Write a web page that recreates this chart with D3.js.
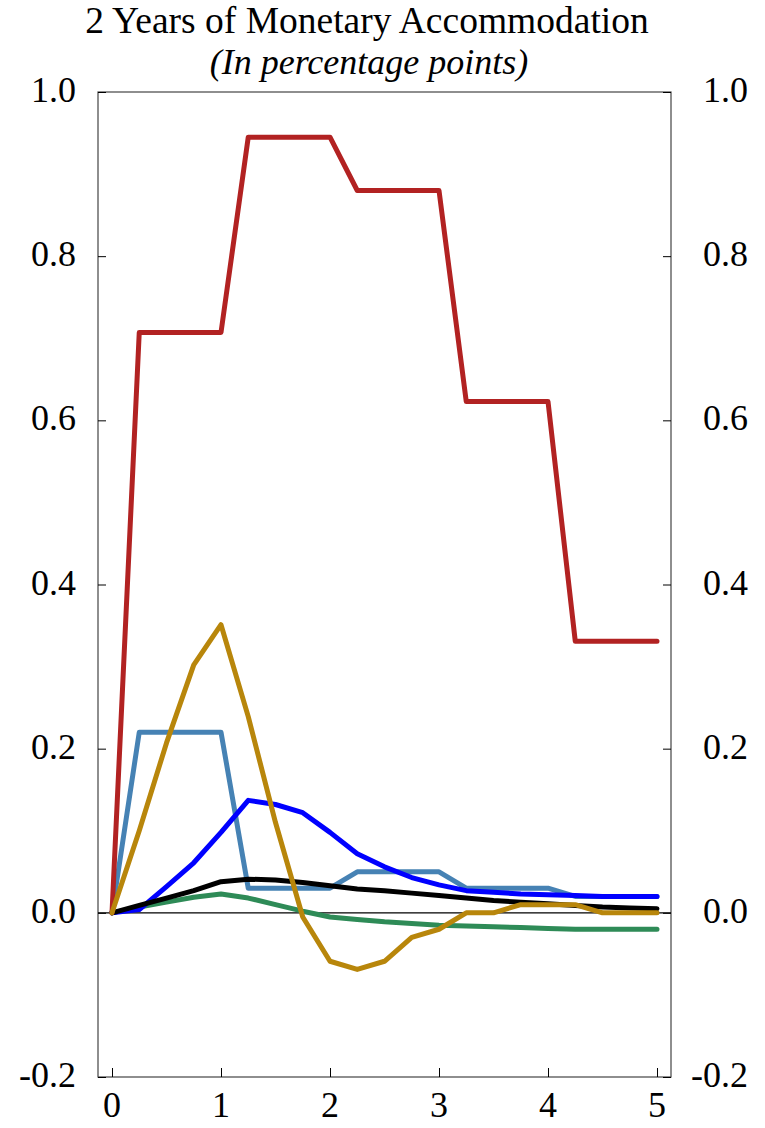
<!DOCTYPE html>
<html lang="en">
<head>
<meta charset="UTF-8">
<title>2 Years of Monetary Accommodation</title>
<script src="https://d3js.org/d3.v7.min.js"></script>
<style>
  body { margin: 0; background: #fff; }
  svg text { font-family: "Liberation Serif", "Times New Roman", serif; fill: #000; }
</style>
</head>
<body>
<svg width="765" height="1128"></svg>
<script>
// quarters 0 .. 5 years
const quarters = d3.range(0, 21).map(i => i * 0.25);

const redSeries   = [0, 0.707, 0.707, 0.707, 0.707, 0.945, 0.945, 0.945, 0.945, 0.88, 0.88, 0.88, 0.88, 0.623, 0.623, 0.623, 0.623, 0.331, 0.331, 0.331, 0.331];
const steelSeries = [0, 0.22, 0.22, 0.22, 0.22, 0.03, 0.03, 0.03, 0.03, 0.05, 0.05, 0.05, 0.05, 0.03, 0.03, 0.03, 0.03, 0.02, 0.02, 0.02, 0.02];
const blueSeries  = [0, 0.004, 0.032, 0.061, 0.098, 0.137, 0.132, 0.122, 0.098, 0.072, 0.056, 0.043, 0.034, 0.027, 0.025, 0.023, 0.022, 0.021, 0.02, 0.02, 0.02];
const blackSeries = [0, 0.009, 0.018, 0.027, 0.038, 0.041, 0.04, 0.037, 0.033, 0.029, 0.027, 0.024, 0.021, 0.018, 0.015, 0.013, 0.011, 0.009, 0.007, 0.006, 0.005];
const greenSeries = [0, 0.007, 0.013, 0.019, 0.023, 0.018, 0.01, 0.002, -0.005, -0.008, -0.011, -0.013, -0.015, -0.016, -0.017, -0.018, -0.019, -0.02, -0.02, -0.02, -0.02];
const goldSeries  = [0, 0.1, 0.207, 0.302, 0.351, 0.239, 0.11, -0.005, -0.059, -0.069, -0.059, -0.03, -0.02, 0, 0, 0.01, 0.01, 0.01, 0, 0, 0];

const yTicks = [-0.2, 0, 0.2, 0.4, 0.6, 0.8, 1.0];
const xTicks = [0, 1, 2, 3, 4, 5];

const series = [
  { name: "steel", color: "#4682B4", values: steelSeries },
  { name: "green", color: "#2E8B57", values: greenSeries },
  { name: "blue",  color: "#0000FF", values: blueSeries },
  { name: "black", color: "#000000", values: blackSeries },
  { name: "red",   color: "#B22222", values: redSeries },
  { name: "gold",  color: "#B8860B", values: goldSeries }
];

const svg = d3.select("svg");
const frame = { left: 98, right: 671, top: 92, bottom: 1077 };

const x = d3.scaleLinear().domain([0, 5]).range([112, 657]);
const y = d3.scaleLinear().domain([-0.2, 1.0]).range([frame.bottom, frame.top]);

// title
svg.append("text")
  .attr("x", 367).attr("y", 33)
  .attr("text-anchor", "middle")
  .attr("font-size", "37.5px")
  .text("2 Years of Monetary Accommodation");

svg.append("text")
  .attr("x", 369).attr("y", 74)
  .attr("text-anchor", "middle")
  .attr("font-size", "36px")
  .attr("font-style", "italic")
  .text("(In percentage points)");

// frame
svg.append("rect")
  .attr("x", frame.left).attr("y", frame.top)
  .attr("width", frame.right - frame.left)
  .attr("height", frame.bottom - frame.top)
  .attr("fill", "none")
  .attr("stroke", "#444")
  .attr("stroke-width", 1.2);

// zero line
svg.append("line")
  .attr("x1", frame.left).attr("x2", frame.right)
  .attr("y1", y(0)).attr("y2", y(0))
  .attr("stroke", "#000").attr("stroke-width", 1.2);

// y ticks both sides, pointing inward
const leftAxis = svg.append("g")
  .attr("transform", `translate(${frame.left},0)`)
  .call(d3.axisRight(y).tickValues(yTicks).tickSize(8).tickFormat(""));
const rightAxis = svg.append("g")
  .attr("transform", `translate(${frame.right},0)`)
  .call(d3.axisLeft(y).tickValues(yTicks).tickSize(8).tickFormat(""));
[leftAxis, rightAxis].forEach(a => {
  a.select(".domain").remove();
  a.selectAll("line").attr("stroke", "#000");
});

// plain hyphen for negatives, as in the original
const fmt = d => d.toFixed(1);
svg.selectAll(".ylab-left")
  .data(yTicks).enter().append("text")
  .attr("class", "ylab-left")
  .attr("x", 76).attr("y", d => y(d) + 10)
  .attr("text-anchor", "end")
  .attr("font-size", "36px")
  .text(fmt);

svg.selectAll(".ylab-right")
  .data(yTicks).enter().append("text")
  .attr("class", "ylab-right")
  .attr("x", 748).attr("y", d => y(d) + 10)
  .attr("text-anchor", "end")
  .attr("font-size", "36px")
  .text(fmt);

// x ticks pointing up
const bottomAxis = svg.append("g")
  .attr("transform", `translate(0,${frame.bottom})`)
  .call(d3.axisTop(x).tickValues(xTicks).tickSize(9).tickFormat(""));
bottomAxis.select(".domain").remove();
bottomAxis.selectAll("line").attr("stroke", "#000");

svg.selectAll(".xlab")
  .data(xTicks).enter().append("text")
  .attr("class", "xlab")
  .attr("x", d => x(d)).attr("y", 1117)
  .attr("text-anchor", "middle")
  .attr("font-size", "36px")
  .text(d => d);

// lines
const line = d3.line()
  .x((d, i) => x(quarters[i]))
  .y(d => y(d));

svg.selectAll(".series")
  .data(series).enter().append("path")
  .attr("class", "series")
  .attr("fill", "none")
  .attr("stroke", d => d.color)
  .attr("stroke-width", 5)
  .attr("stroke-linejoin", "round")
  .attr("stroke-linecap", "round")
  .attr("d", d => line(d.values));
</script>
</body>
</html>
